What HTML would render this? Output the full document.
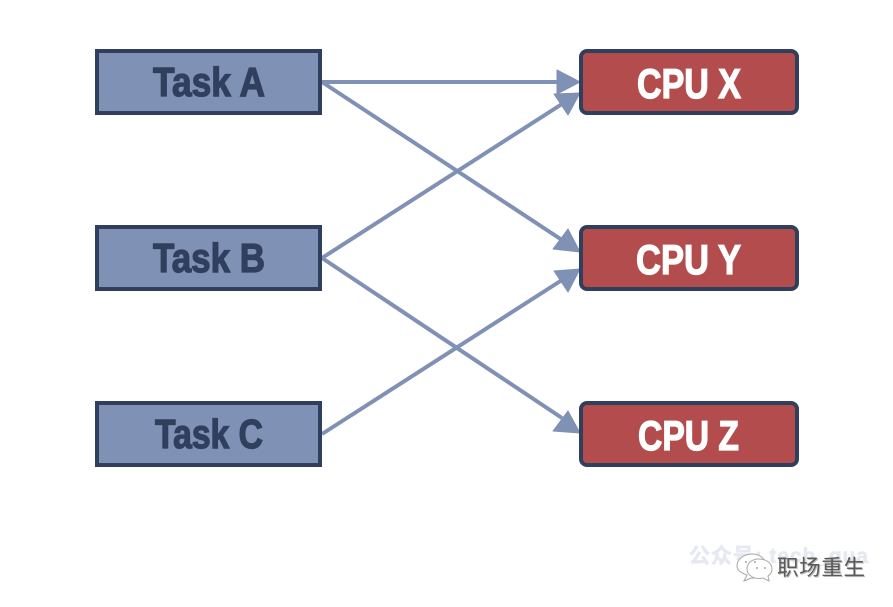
<!DOCTYPE html>
<html><head><meta charset="utf-8"><style>
html,body{margin:0;padding:0;background:#fff;width:893px;height:607px;overflow:hidden}
svg{display:block}
text{font-family:"Liberation Sans","Noto Sans CJK SC",sans-serif}
</style></head><body>
<svg width="893" height="607" viewBox="0 0 893 607" xmlns="http://www.w3.org/2000/svg">
<rect width="893" height="607" fill="#fff"/>
<g stroke="#7f91b4" stroke-width="4" fill="none">
<line x1="322" y1="82" x2="560" y2="82"/>
<line x1="322" y1="82" x2="562" y2="240"/>
<line x1="322" y1="258" x2="562" y2="104"/>
<line x1="322" y1="258" x2="562" y2="418"/>
<line x1="322" y1="434" x2="562" y2="280"/>
</g>
<g fill="#7f91b4" stroke="#7f91b4" stroke-width="1" stroke-linejoin="round">
<polygon points="580,82 557,70 557,94"/>
<polygon points="580,93 554,94 568,115"/>
<polygon points="580,252 568,229 553,249"/>
<polygon points="580,269 554,271 568,292"/>
<polygon points="580,433 568,411 553,431"/>
</g>
<g fill="#7f91b4" stroke="#303f5d" stroke-width="4">
<rect x="97" y="51" width="223" height="62"/>
<rect x="97" y="227" width="223" height="62"/>
<rect x="97" y="403" width="223" height="62"/>
</g>
<g fill="#b34d4d" stroke="#303f5d" stroke-width="4">
<rect x="581" y="51" width="216" height="62" rx="6"/>
<rect x="581" y="227" width="216" height="62" rx="6"/>
<rect x="581" y="403" width="216" height="62" rx="6"/>
</g>
<g font-size="41" font-weight="700" fill="#303f5d" stroke="#303f5d" stroke-width="1.300">
<text x="153" y="96" textLength="112" lengthAdjust="spacingAndGlyphs">Task A</text>
<text x="153" y="272" textLength="112" lengthAdjust="spacingAndGlyphs">Task B</text>
<text x="155" y="448" textLength="108" lengthAdjust="spacingAndGlyphs">Task C</text>
</g>
<g font-size="42" font-weight="700" fill="#fff" stroke="#fff" stroke-width="1.300">
<text x="637" y="98" textLength="104" lengthAdjust="spacingAndGlyphs">CPU X</text>
<text x="636" y="274" textLength="105" lengthAdjust="spacingAndGlyphs">CPU Y</text>
<text x="638" y="450" textLength="101" lengthAdjust="spacingAndGlyphs">CPU Z</text>
</g>
<text x="689" y="563" font-size="21" font-weight="700" fill="#e6e9f1" stroke="#e6e9f1" stroke-width="0.600" textLength="179" lengthAdjust="spacing">公众号: tech_gua</text>
<g fill="#fff" stroke="#a8a8a8" stroke-width="1">
<path d="M747 575l-3 6 7-3c8 1 15-4 15-12 0-7-6-12-14-12s-15 5-15 12c0 4 4 7 10 9z"/>
<path d="M768 576l1 5-6-3c-9 2-16-3-16-9 0-6 5-10 12-10s13 4 13 10c0 3-1 5-4 7z"/>
</g>
<g fill="#a8a8a8">
<circle cx="746" cy="562" r="1"/><circle cx="755" cy="562" r="1"/>
<circle cx="757" cy="568" r="1"/><circle cx="765" cy="568" r="1"/>
</g>
<text x="778" y="576" font-size="21.500" fill="#bbb" textLength="88" lengthAdjust="spacing">职场重生</text>
<text x="777" y="575" font-size="21.500" fill="#5a5a5a" textLength="88" lengthAdjust="spacing">职场重生</text>
</svg>
</body></html>
